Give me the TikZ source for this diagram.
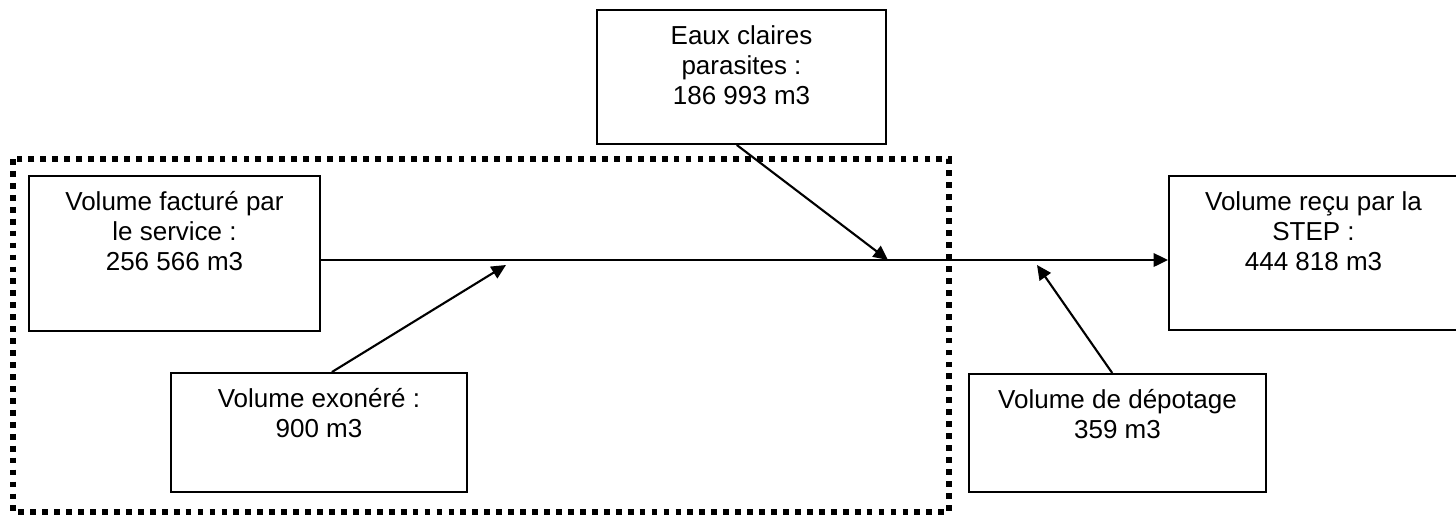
\documentclass[tikz,border=0pt]{standalone}
\usepackage{fontspec}
\setmainfont{Liberation Sans}
\usetikzlibrary{positioning,arrows.meta}

\begin{document}
\begin{tikzpicture}[x=0.02cm, y=-0.02cm,
    box/.style={draw, line width=1.1pt, inner sep=0pt},
    txt/.style={inner sep=0pt, align=center, font=\fontsize{14.8pt}{17.07pt}\selectfont},
    flow/.style={line width=1.2pt, -{Triangle[length=2.9mm, width=2.7mm]}}]
    \useasboundingbox (0,0) rectangle (1456,515);

    % Dotted zone round the service
    \draw[line width=3.1pt, dash pattern=on 3.3pt off 3.5pt] (13,159) rectangle (949,512);

    % Boxes
    \node[box, minimum width=5.78cm, minimum height=2.68cm] (eaux) at (741.5,77) {};
    \node[box, minimum width=5.82cm, minimum height=3.10cm] (service) at (174.5,253.5) {};
    \node[box, minimum width=5.92cm, minimum height=2.38cm] (exo) at (319,432.5) {};
    \node[box, minimum width=5.94cm, minimum height=2.36cm] (depot) at (1117.5,433) {};
    \node[box, minimum width=5.78cm, minimum height=3.08cm] (step) at (1313.5,253) {};

    % Texts
    \node[txt, below=0.32cm of eaux.north] (eauxTxt) {Eaux claires\\parasites :\\186 993 m3};
    \node[txt, below=0.32cm of service.north] (serviceTxt) {Volume facturé par\\le service :\\256 566 m3};
    \node[txt, below=0.32cm of exo.north] (exoTxt) {Volume exonéré :\\900 m3};
    \node[txt, below=0.32cm of depot.north] (depotTxt) {Volume de dépotage\\359 m3};
    \node[txt, below=0.32cm of step.north] (stepTxt) {Volume reçu par la\\STEP :\\444 818 m3};

    % Main flow
    \coordinate (inExo) at (506,265);
    \coordinate (inEaux) at (888,260);
    \coordinate (inDepot) at (1037,265);
    \draw[flow] (service.east |- inEaux) -- (step.west |- inEaux);

    % Inputs
    \draw[flow] (eaux.266) -- (inEaux);
    \draw[flow] (exo.78) -- (inExo);
    \draw[flow] (depot.95) -- (inDepot);
\end{tikzpicture}
\end{document}
